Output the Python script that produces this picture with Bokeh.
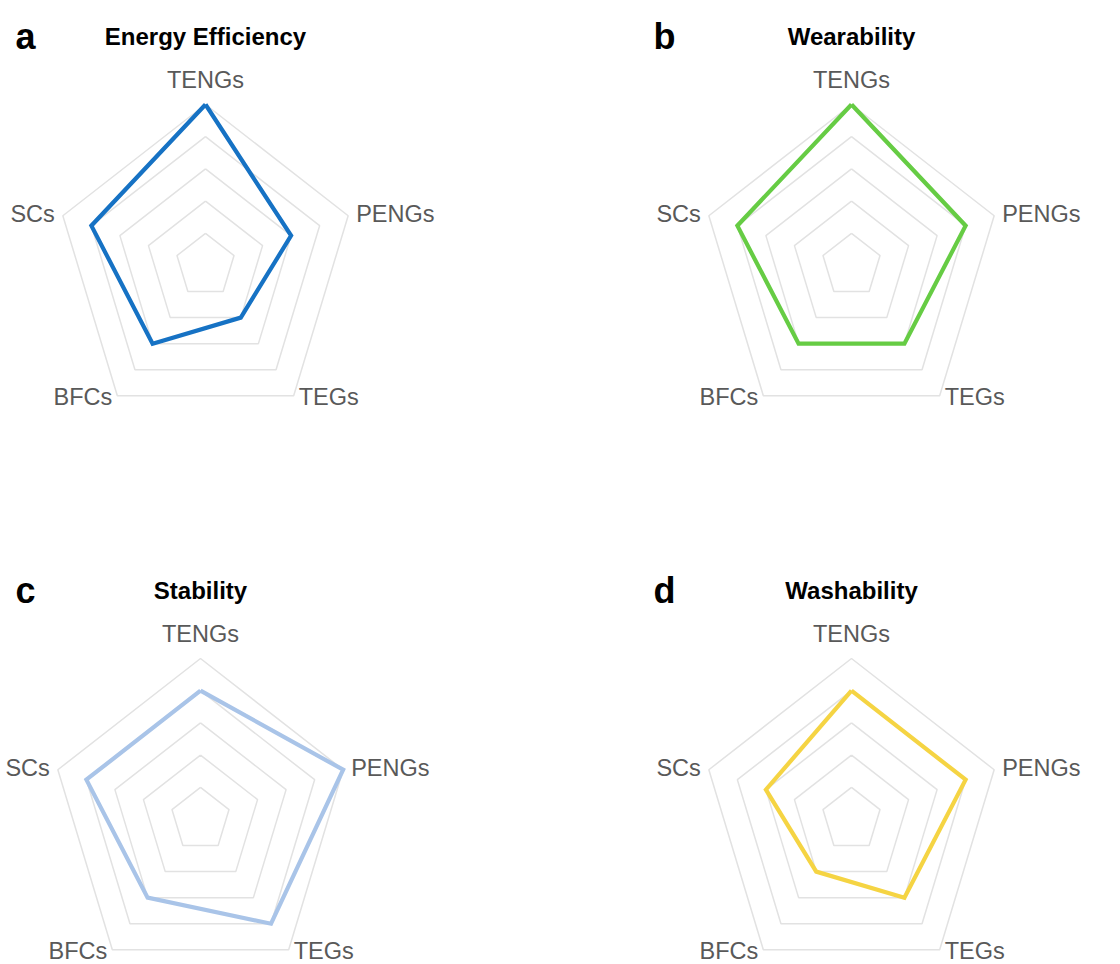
import numpy as np
from bokeh.plotting import figure
from bokeh.models import Range1d, ColumnDataSource
from bokeh.core.properties import value
from bokeh.embed import file_html
from bokeh.resources import INLINE

# ---- data ----
axes_names = ["TENGs", "PENGs", "TEGs", "BFCs", "SCs"]
max_value = 5
n_rings = 5
panel_letters = ["a", "b", "c", "d"]
panel_titles = ["Energy Efficiency", "Wearability", "Stability", "Washability"]
energy_efficiency = [5, 3, 2, 3, 4]
wearability = [5, 4, 3, 3, 4]
stability = [4, 5, 4, 3, 4]
washability = [4, 4, 3, 2, 3]
series = [energy_efficiency, wearability, stability, washability]
colors = ["#1672c4", "#66cc44", "#a9c4e8", "#f5d443"]

# ---- layout (pixel space of the page) ----
W, H = 1120, 964
centers = [(205, 265), (851, 265), (200, 819), (851, 819)]
RX, RY = 150, 161

p = figure(width=W, height=H, output_backend="svg", toolbar_location=None,
           x_range=Range1d(0, W), y_range=Range1d(H, 0),
           min_border=0, outline_line_color=None)
p.axis.visible = False
p.grid.visible = False
p.background_fill_color = "white"

angles = np.pi / 2 - np.arange(len(axes_names)) * 2 * np.pi / len(axes_names)
ux = np.cos(angles)
uy = -np.sin(angles)  # screen y downward

font = value("Liberation Sans")

for k in range(4):
    cx, cy = centers[k]
    # grid rings
    xs, ys = [], []
    for r in range(1, n_rings + 1):
        f = r / n_rings
        px = list(cx + RX * f * ux) + [cx + RX * f * ux[0]]
        py = list(cy + RY * f * uy) + [cy + RY * f * uy[0]]
        xs.append(px)
        ys.append(py)
    p.multi_line(xs, ys, line_color="#e2e2e2", line_width=1.5)

    # data polygon
    vals = np.array(series[k], dtype=float) / max_value
    dx = list(cx + RX * vals * ux) + [cx + RX * vals[0] * ux[0]]
    dy = list(cy + RY * vals * uy) + [cy + RY * vals[0] * uy[0]]
    p.line(dx, dy, line_color=colors[k], line_width=4.2, line_join="miter")

    # axis names
    vx = cx + RX * ux
    vy = cy + RY * uy
    lx, ly, la = [], [], []
    offsets = [(0, -25, "center"), (8, -2, "left"), (5, 1, "left"),
               (-5, 1, "right"), (-8, -2, "right")]
    for i, name in enumerate(axes_names):
        ox, oy, al = offsets[i]
        lx.append(vx[i] + ox)
        ly.append(vy[i] + oy)
        la.append(al)
    src = ColumnDataSource(dict(x=lx, y=ly, t=axes_names, a=la))
    p.text("x", "y", text="t", text_align="a", source=src,
           text_baseline="alphabetic", text_font=font,
           text_font_size="23.5px", text_color="#595959")

    # title
    top = cy - RY
    p.text([cx], [top - 68], text=[panel_titles[k]], text_align="center",
           text_baseline="alphabetic", text_font=font, text_font_style="bold",
           text_font_size="24px", text_color="black")
    # panel letter
    lxp = 15 if k % 2 == 0 else 653
    p.text([lxp], [top - 68], text=[panel_letters[k]], text_align="left",
           text_baseline="alphabetic", text_font=font, text_font_style="bold",
           text_font_size="36px", text_color="black")

open("out.html", "w").write(file_html(p, INLINE))
